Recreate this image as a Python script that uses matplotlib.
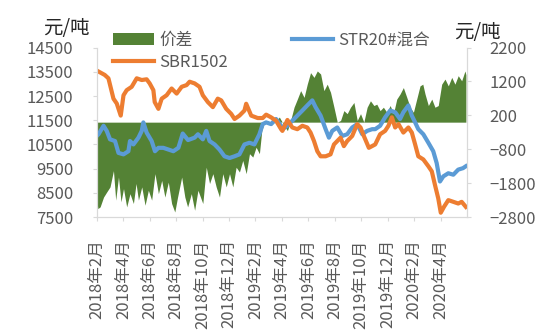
import numpy as np
import matplotlib
matplotlib.use("Agg")
import matplotlib.pyplot as plt

plt.rcParams['font.family'] = ['Noto Sans CJK SC', 'DejaVu Sans']

# x 值: 自2018年2月起的月数
tick_labels = ['2018年2月', '2018年4月', '2018年6月', '2018年8月', '2018年10月', '2018年12月',
               '2019年2月', '2019年4月', '2019年6月', '2019年8月', '2019年10月', '2019年12月',
               '2020年2月', '2020年4月']

sbr_month = [0, 0.6, 0.88, 1.26, 1.51, 1.81, 2.02, 2.26, 2.64, 3.02, 3.4, 3.77, 4.0, 4.28, 4.38,
             4.66, 4.91, 5.28, 5.66, 6.04, 6.42, 6.79, 7.02, 7.4, 7.77, 8.02, 8.4, 8.78, 9.15, 9.41,
             9.79, 10.17, 10.42, 10.79, 11.17, 11.3, 11.68, 12.17, 12.55, 12.81, 13.18, 13.56, 13.94,
             14.04, 14.42, 14.79, 15.17, 15.55, 15.92, 16.17, 16.43, 16.68, 16.93, 17.31, 17.68, 17.94,
             18.19, 18.44, 18.69, 18.94, 19.32, 19.7, 19.95, 20.2, 20.58, 21.06, 21.43, 21.81, 22.06,
             22.32, 22.57, 22.82, 23.19, 23.57, 23.83, 24.08, 24.32, 24.7, 25.08, 25.34, 25.58, 25.83,
             26.02, 26.26, 26.59, 26.97, 27.34, 27.6, 27.92]
sbr_price = [13550, 13370, 13230, 12390, 12190, 11690, 12530, 12740, 12880, 13230, 13160, 13190, 13020,
             12740, 12250, 11970, 12390, 12530, 12810, 12600, 12880, 12950, 13090, 13020, 12880, 12530,
             12250, 12040, 12390, 12320, 11970, 11760, 11550, 11690, 11900, 12180, 11690, 11590, 11590,
             11730, 11620, 11480, 11130, 11060, 11510, 11200, 11130, 11270, 11200, 10990, 10640, 10220,
             10010, 10010, 10090, 10500, 10640, 10780, 10430, 10640, 10850, 11340, 11200, 10850, 10360,
             10500, 10920, 11060, 11270, 11620, 11200, 11340, 10990, 11200, 10990, 10500, 10010, 9880,
             9600, 9390, 8830, 8270, 7680, 7920, 8200, 8130, 8060, 8130, 7920]

str_month = [0, 0.13, 0.51, 0.75, 1.0, 1.38, 1.64, 2.02, 2.39, 2.51, 2.77, 3.15, 3.4, 3.52, 3.77, 4.15,
             4.4, 4.66, 5.03, 5.41, 5.79, 6.17, 6.5, 6.9, 7.4, 7.65, 8.02, 8.28, 8.53, 8.91, 9.28, 9.66,
             10.04, 10.42, 10.79, 11.17, 11.55, 11.92, 12.3, 12.55, 12.81, 13.18, 13.56, 13.94, 14.04,
             14.42, 14.79, 15.17, 15.55, 15.92, 16.3, 16.55, 16.93, 17.31, 17.56, 17.81, 18.19, 18.57,
             18.94, 19.32, 19.7, 20.08, 20.45, 20.83, 21.06, 21.43, 21.81, 22.19, 22.57, 22.94, 23.19,
             23.57, 23.83, 24.08, 24.32, 24.7, 25.08, 25.45, 25.71, 25.96, 26.21, 26.59, 26.97, 27.34,
             27.7, 27.92]
str_price = [10850, 10920, 11270, 11060, 10710, 10640, 10150, 10090, 10220, 10640, 10500, 10780, 11060,
             11410, 10990, 10640, 10220, 10360, 10360, 10290, 10220, 10360, 10950, 10680, 10780, 10920,
             10710, 11060, 10640, 10500, 10290, 10010, 9940, 10010, 10090, 10500, 10570, 10500, 10920,
             11340, 11410, 11340, 11550, 11270, 11130, 11270, 11480, 11690, 11900, 12110, 12320, 12040,
             11690, 11130, 10780, 11060, 11200, 10850, 10920, 11200, 11340, 10920, 11060, 11130, 11130,
             11270, 11620, 11900, 11830, 11550, 11830, 12110, 11690, 11410, 11130, 10920, 10570, 10220,
             9730, 8970, 9180, 9310, 9250, 9460, 9520, 9600]

spread_month = [0, 0.08, 0.25, 0.51, 0.75, 1.0, 1.26, 1.43, 1.64, 1.83, 2.02, 2.26, 2.51, 2.77, 2.97,
                3.15, 3.4, 3.65, 3.9, 4.15, 4.4, 4.66, 4.91, 5.15, 5.41, 5.66, 5.9, 6.11, 6.42, 6.66,
                6.87, 7.15, 7.4, 7.65, 8.02, 8.28, 8.53, 8.78, 9.03, 9.28, 9.53, 9.79, 10.04, 10.29,
                10.54, 10.79, 11.04, 11.3, 11.55, 11.8, 12.05, 12.3, 12.48, 12.68, 12.93, 13.18, 13.43,
                13.81, 14.17, 14.42, 14.66, 14.92, 15.17, 15.42, 15.68, 15.92, 16.17, 16.43, 16.68,
                16.93, 17.18, 17.43, 17.68, 17.94, 18.19, 18.44, 18.69, 18.94, 19.19, 19.45, 19.7,
                19.95, 20.2, 20.45, 20.7, 20.96, 21.18, 21.43, 21.68, 21.94, 22.19, 22.44, 22.69, 22.94,
                23.19, 23.45, 23.7, 23.95, 24.2, 24.45, 24.66, 24.83, 25.08, 25.34, 25.58, 25.83, 26.09,
                26.34, 26.59, 26.85, 27.09, 27.34, 27.6, 27.85, 27.92]
spread_value = [-2300, -2550, -2500, -2210, -2060, -1910, -1430, -2300, -1620, -2350, -1960, -2500,
                -2110, -2400, -1810, -2300, -1910, -2450, -2010, -2300, -1520, -2110, -1720, -2210,
                -1770, -2400, -2650, -2210, -1620, -2210, -2500, -2110, -2600, -2010, -2400, -1330,
                -1810, -1520, -1910, -2210, -1520, -1910, -1520, -1910, -1330, -1470, -1130, -1520,
                -930, -1030, -740, -930, -250, 0, 50, -100, 0, 150, -100, -250, 50, 440, 680, 930, 730,
                1120, 1460, 1320, 1510, 1420, 930, 1120, 880, 440, 0, 50, 340, 250, 440, 580, 50, 250,
                0, 440, 630, 490, 530, 340, 440, 290, 490, 250, 680, 830, 1020, 730, 440, 290, 680,
                1070, 1120, 830, 490, 680, 440, 490, 1120, 1270, 1070, 1320, 1120, 1370, 1220, 1510,
                1400]

label_color = '#595959'
axis_color = '#D9D9D9'

fig = plt.figure(figsize=(5.5, 3.35), dpi=100)
ax = fig.add_axes([0.176, 0.352, 0.673, 0.506])
ax2 = ax.twinx()
ax.set_zorder(ax2.get_zorder() + 1)
ax.patch.set_visible(False)

area = ax2.fill_between(spread_month, spread_value, 0, color='#548235', linewidth=0, label='价差')
line_str, = ax.plot(str_month, str_price, color='#5B9BD5', lw=3.0, label='STR20#混合')
line_sbr, = ax.plot(sbr_month, sbr_price, color='#ED7D31', lw=3.0, label='SBR1502')

ax.set_xlim(0, 28)
ax.set_ylim(7500, 14500)
ax.set_yticks(np.arange(7500, 14501, 1000))
ax2.set_ylim(-2800, 2200)
ax2.set_yticks(np.arange(-2800, 2201, 1000))
ax.set_xticks(np.arange(0, 27, 2))
ax.set_xticklabels(tick_labels, rotation=90)

for a in (ax, ax2):
    for s in a.spines.values():
        s.set_color(axis_color)
    a.spines['top'].set_visible(False)
    a.tick_params(colors=axis_color, labelcolor=label_color, labelsize=12, length=3)
ax.tick_params(axis='y', pad=14)
ax2.tick_params(axis='y', pad=13)
ax.tick_params(axis='x', pad=13, labelsize=12)

fig.text(0.078, 0.916, '元/吨', fontsize=14, color='#262626', va='center', ha='left')
fig.text(0.826, 0.902, '元/吨', fontsize=14, color='#262626', va='center', ha='left')

leg = ax.legend([area, line_sbr, line_str], ['价差', 'SBR1502', 'STR20#混合'], ncol=2,
                loc='upper left', bbox_to_anchor=(0.205, 0.905), bbox_transform=fig.transFigure,
                frameon=False, fontsize=12, handlelength=2.5, handletextpad=0.3,
                columnspacing=3.8, labelspacing=0.3, borderaxespad=0, borderpad=0)
for t in leg.get_texts():
    t.set_color(label_color)

fig.savefig('out.png', dpi=100)
